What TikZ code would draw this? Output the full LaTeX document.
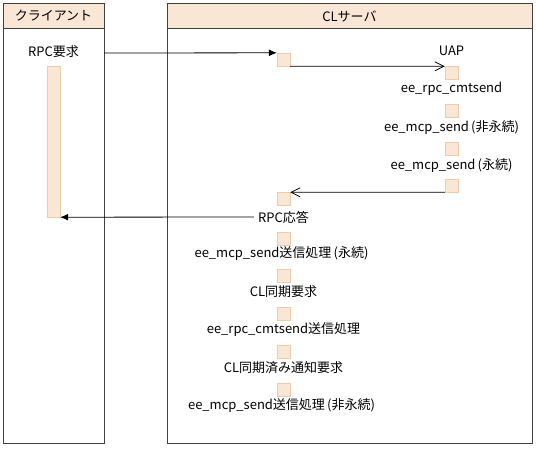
\documentclass[tikz,border=0pt]{standalone}
\usepackage{fontspec}
\setmainfont{Noto Sans CJK JP}
\usetikzlibrary{arrows.meta}

\definecolor{peach}{HTML}{FAE6D4}
\definecolor{peachline}{HTML}{EECCAA}
\definecolor{laneline}{HTML}{404040}

\tikzset{
  lanebox/.style={draw=laneline, line width=1pt},
  headbox/.style={draw=laneline, fill=peach, line width=1pt},
  act/.style={draw=peachline, fill=peach, minimum size=13pt, inner sep=0pt},
  lbl/.style={font=\fontsize{13}{15}\selectfont, inner sep=0pt},
  rpcmsg/.style={-{Latex[length=8pt,width=7pt]}, line width=0.8pt},
  callmsg/.style={-{Straight Barb[length=9pt,width=9pt]}, line width=0.8pt},
}

\begin{document}
\begin{tikzpicture}[x=1pt, y=-1pt]
    \useasboundingbox (0,0) rectangle (536,448);

    % lanes
    \draw[lanebox] (3,3) rectangle (104,443);
    \draw[headbox] (3,3) rectangle (104,28);
    \node[lbl] (client) at (53.5,16) {クライアント};
    \draw[lanebox] (167,3) rectangle (532,443);
    \draw[headbox] (167,3) rectangle (532,28);
    \node[lbl] (server) at (349.5,16) {CLサーバ};
    \coordinate (cedge) at (104,53);

    % client
    \node[lbl] (rpcreq) at (53.5,52) {RPC要求};
    \node[act, minimum height=151pt] (cbar) at (53.5,141.5) {};

    % CL server
    \node[act] (s0) at (283.5,59.5) {};
    \node[lbl] (uap) at (451.5,51) {UAP};
    \node[act] (u1) at (451.5,73) {};
    \node[lbl] (cmt) at (451.5,89) {ee\_rpc\_cmtsend};
    \node[act] (u2) at (451.5,110.5) {};
    \node[lbl] (mcpn) at (451.5,127.5) {ee\_mcp\_send\,(非永続)};
    \node[act] (u3) at (451.5,148.5) {};
    \node[lbl] (mcpp) at (451.5,166) {ee\_mcp\_send\,(永続)};
    \node[act] (u4) at (451.5,185.5) {};

    \node[act] (s1) at (283.5,199) {};
    \node[lbl] (rpcres) at (283.5,217) {RPC応答};
    \node[act] (s2) at (283.5,238.5) {};
    \node[lbl] (t2) at (281.5,254) {ee\_mcp\_send送信処理\,(永続)};
    \node[act] (s3) at (283.5,275.5) {};
    \node[lbl] (t3) at (283.5,292) {CL同期要求};
    \node[act] (s4) at (283.5,313.5) {};
    \node[lbl] (t4) at (283.5,330) {ee\_rpc\_cmtsend送信処理};
    \node[act] (s5) at (283.5,351.5) {};
    \node[lbl] (t5) at (283.5,367.5) {CL同期済み通知要求};
    \node[act] (s6) at (283.5,389.5) {};
    \node[lbl] (t6) at (281.5,405.5) {ee\_mcp\_send送信処理\,(非永続)};

    \draw[rpcmsg] (cedge) -- (s0.north west);
    \draw[callmsg] (s0.south east) -- (u1.north west);
    \draw[callmsg] (u4.south west) -- (s1.north east);
    \draw[rpcmsg] ([xshift=-4pt]rpcres.west) -- (cbar.south east);
\end{tikzpicture}
\end{document}
